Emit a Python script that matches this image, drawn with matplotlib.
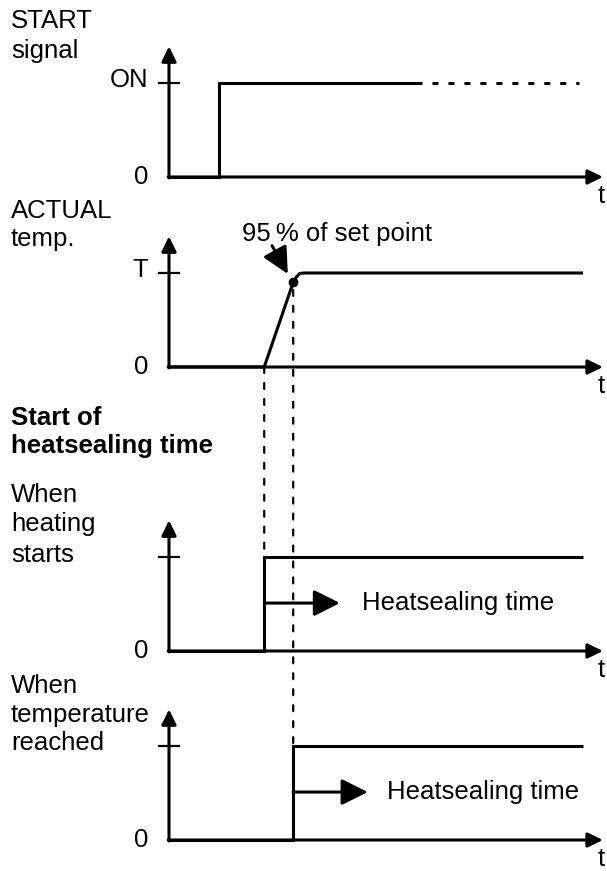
import matplotlib
matplotlib.use('Agg')
import matplotlib.pyplot as plt
from matplotlib.patches import ConnectionPatch

plt.rcParams['font.family'] = ['Liberation Sans', 'DejaVu Sans']
plt.rcParams['font.size'] = 18.5
plt.rcParams['lines.scale_dashes'] = False

# ---- data (time in arbitrary units, level 0 = zero, 1 = tick level) ----
start_t = [0, 1.2, 1.2, 6.1]
start_lvl = [0, 0, 1, 1]
start_cont_t = [6.1, 9.9]          # dashed continuation
start_cont_lvl = [1, 1]

temp_t = [0, 2.3, 3.0, 3.08, 3.16, 3.27, 10]
temp_lvl = [0, 0, 0.9, 0.96, 0.995, 1, 1]
t_95 = 3.0
lvl_95 = 0.9

heat_t = [0, 2.3, 2.3, 10]
heat_lvl = [0, 0, 1, 1]
heat_arrow = (2.3, 4.13)

reach_t = [0, 3.0, 3.0, 10]
reach_lvl = [0, 0, 1, 1]
reach_arrow = (3.0, 4.8)

W, H = 607, 871
fig = plt.figure(figsize=(W / 100, H / 100), dpi=100)

LW = 2.2
DASH = (4.3, 7.2)


def px(x, y):
    return x / W, 1 - y / H


def panel(base, top_label):
    ax = fig.add_axes([169 / W, (H - base) / H, 414 / W, 94 / H])
    ax.set_xlim(0, 10)
    ax.set_ylim(0, 1)
    ax.axis('off')
    axis_arrow = dict(arrowstyle='-|>,head_length=0.45,head_width=0.22',
                      lw=LW, color='black', mutation_scale=20,
                      shrinkA=0, shrinkB=0)
    ax.annotate('', xy=(0, 1.39), xytext=(0, -0.01), arrowprops=axis_arrow,
                annotation_clip=False)
    ax.annotate('', xy=(10.48, 0), xytext=(-0.02, 0), arrowprops=axis_arrow,
                annotation_clip=False)
    ax.plot([-0.24, 0.24], [1, 1], color='black', lw=1.6, clip_on=False)
    ax.text(-0.5, 0, '0', ha='right', va='center')
    if top_label:
        ax.text(-0.5, 1.03, top_label, ha='right', va='center')
    ax.text(10.43, -0.07, 't', ha='center', va='top')
    return ax


def step(ax, t, lvl, **kw):
    ax.plot(t, lvl, color='black', lw=LW, solid_joinstyle='miter',
            solid_capstyle='butt', clip_on=False, **kw)


def time_arrow(ax, span, text_t):
    ax.annotate('', xy=(span[1], 0.51), xytext=(span[0], 0.51),
                arrowprops=dict(arrowstyle='-|>,head_length=0.8,head_width=0.4',
                                lw=LW, color='black', mutation_scale=20,
                                shrinkA=0, shrinkB=0),
                annotation_clip=False)
    ax.text(text_t, 0.51, 'Heatsealing time', ha='left', va='center')


# panel 1: START signal
ax1 = panel(177, 'ON')
step(ax1, start_t, start_lvl)
ax1.plot(start_cont_t, start_cont_lvl, color='black', lw=LW,
         linestyle=(DASH[0], DASH), dash_capstyle='butt', clip_on=False)

# panel 2: ACTUAL temp
ax2 = panel(367, 'T')
step(ax2, temp_t, temp_lvl)
ax2.plot(t_95, lvl_95, 'o', color='black', ms=6, clip_on=False)
ax2.text(1.76, 1.34, '95\u2009% of set point', ha='left', va='baseline')
ax2.annotate('', xy=(2.87, 0.99), xytext=(2.49, 1.29),
             arrowprops=dict(arrowstyle='-|>,head_length=0.8,head_width=0.4',
                             lw=LW, color='black', mutation_scale=20,
                             shrinkA=0, shrinkB=0),
             annotation_clip=False)

# panel 3: when heating starts
ax3 = panel(651, None)
step(ax3, heat_t, heat_lvl)
time_arrow(ax3, heat_arrow, 4.66)

# panel 4: when temperature reached
ax4 = panel(840, None)
step(ax4, reach_t, reach_lvl)
time_arrow(ax4, reach_arrow, 5.27)

# dashed guide lines between panels
for xa, ya, axb in [(temp_t[1], 0, ax3), (t_95, lvl_95 - 0.08, ax4)]:
    con = ConnectionPatch(xyA=(xa, ya), coordsA=ax2.transData,
                          xyB=(xa, 1), coordsB=axb.transData,
                          color='black', lw=1.6, linestyle=(0, DASH))
    fig.add_artist(con)

# left-hand labels
labels = [
    ('START', 28, 'normal'), ('signal', 58, 'normal'),
    ('ACTUAL', 218, 'normal'), ('temp.', 246, 'normal'),
    ('Start of', 425, 'bold'), ('heatsealing time', 453, 'bold'),
    ('When', 502, 'normal'), ('heating', 531, 'normal'), ('starts', 562, 'normal'),
    ('When', 693, 'normal'), ('temperature', 722, 'normal'), ('reached', 750, 'normal'),
]
for txt, y, wt in labels:
    fig.text(*px(11, y), txt, ha='left', va='baseline', fontweight=wt)

fig.savefig('out.png', dpi=100)
